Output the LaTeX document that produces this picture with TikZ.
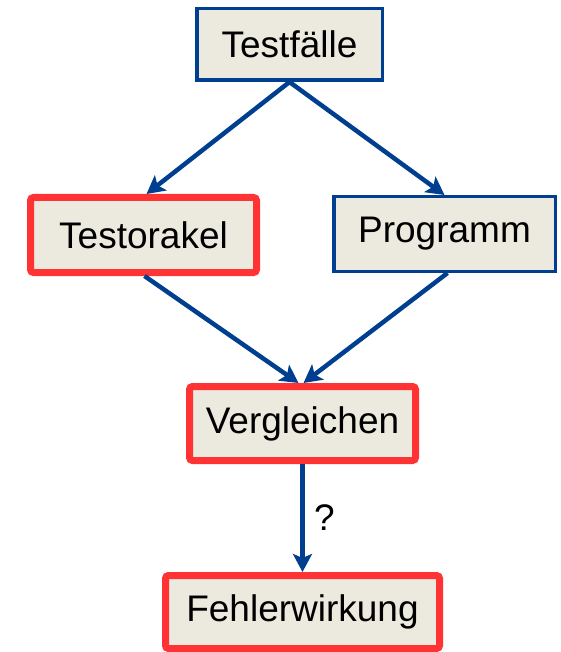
\documentclass[tikz,border=0pt]{standalone}
\usepackage{fontspec}
\setmainfont{Liberation Sans}
\usetikzlibrary{arrows.meta}
\definecolor{boxfill}{HTML}{ECE9DF}
\definecolor{boxblue}{HTML}{003F8F}
\definecolor{boxred}{HTML}{FF3333}
\begin{document}
\begin{tikzpicture}[x=1pt,y=-1pt,
    font=\fontsize{37}{44}\selectfont,
    plainbox/.style={draw=boxblue,fill=boxfill,line width=3.5pt,inner sep=0pt},
    redbox/.style={draw=boxred,fill=boxfill,line width=7pt,rounded corners=3pt,inner sep=0pt},
    flow/.style={draw=boxblue,line width=4.5pt,-{Stealth[length=18pt,width=19pt,inset=4pt]}}]
    \useasboundingbox (0,0) rectangle (560,652);
    \node[plainbox,minimum width=185.5pt,minimum height=71.5pt] (tf) at (289.5,44.5) {Testfälle};
    \node[redbox,minimum width=226pt,minimum height=75pt] (orakel) at (143.5,235) {Testorakel};
    \node[plainbox,minimum width=221.5pt,minimum height=74.5pt] (prog) at (444.5,234) {Programm};
    \node[redbox,minimum width=226pt,minimum height=74pt] (verg) at (302.5,423.5) {Vergleichen};
    \node[redbox,minimum width=274pt,minimum height=73pt] (fehler) at (302.5,612) {Fehlerwirkung};
    \draw[flow] (tf.south) -- ([xshift=3pt]orakel.north);
    \draw[flow] (tf.south) -- (prog.north);
    \draw[flow] ([xshift=1pt]orakel.south) -- ([xshift=-4pt]verg.north);
    \draw[flow] ([xshift=3pt]prog.south) -- ([xshift=1pt]verg.north);
    \draw[flow] (verg.south) -- node[right=6pt] (frage) {?} (fehler.north);
\end{tikzpicture}
\end{document}
